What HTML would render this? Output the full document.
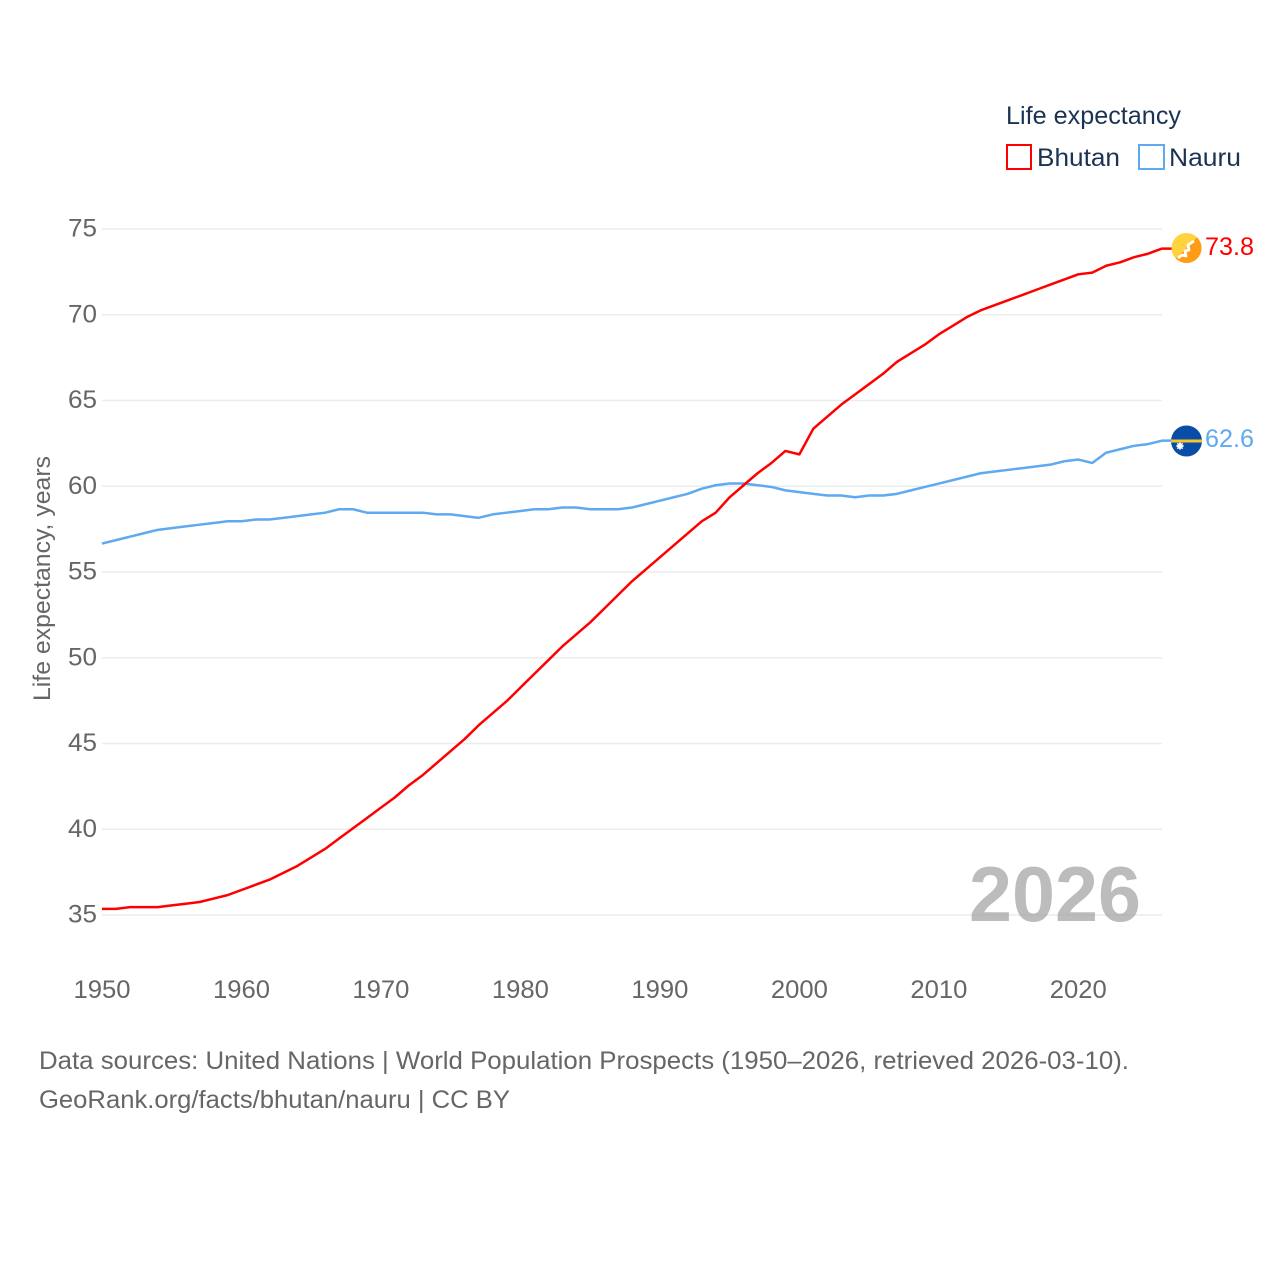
<!DOCTYPE html>
<html lang="en">
<head>
<meta charset="utf-8">
<title>Life expectancy: Bhutan and Nauru</title>
<style>
html,body{margin:0;padding:0;background:#fff;}
svg{display:block;}
text{font-family:"Liberation Sans",sans-serif;}
</style>
</head>
<body>
<svg id="chart" xmlns="http://www.w3.org/2000/svg" width="1280" height="1280" viewBox="0 0 1280 1280">
  <g id="grid"></g>
  <g id="yticks"></g>
  <g id="xticks"></g>
  <text transform="translate(50,701) rotate(-90)" font-size="24" fill="#666" textLength="245" lengthAdjust="spacingAndGlyphs">Life expectancy, years</text>
  <text x="969" y="921" font-size="78" font-weight="bold" fill="#a0a0a0" fill-opacity="0.7" textLength="172" lengthAdjust="spacingAndGlyphs">2026</text>
  <g id="series"></g>

  <g>
    <clipPath id="clipBt"><circle cx="1186.500" cy="248" r="15"/></clipPath>
    <g clip-path="url(#clipBt)">
      <rect x="1170" y="232" width="33" height="32" fill="#ffd23e"/>
      <polygon points="1201.500,233 1201.500,263 1171.500,263" fill="#ff9c16"/>
      <path d="M1178 258 L1182 255 L1186 256 L1185 251 L1189 250 L1188 245 L1191 243 L1194 241" fill="none" stroke="#fff" stroke-width="2.800" stroke-linejoin="round"/>
    </g>
  </g>
  <g>
    <clipPath id="clipNr"><circle cx="1186.500" cy="441" r="15.500"/></clipPath>
    <g clip-path="url(#clipNr)">
      <rect x="1170" y="425" width="33" height="32" fill="#0a4da6"/>
      <rect x="1170" y="439.500" width="33" height="3" fill="#fcc42c"/>
      <circle cx="1180" cy="446" r="3" fill="#fff"/>
      <path d="M1180 442 V450 M1176 446 H1184 M1177.200 443.200 L1182.800 448.800 M1182.800 443.200 L1177.200 448.800" stroke="#fff" stroke-width="1"/>
    </g>
  </g>

  <text x="1205" y="255" font-size="25" fill="#f00" textLength="49" lengthAdjust="spacingAndGlyphs">73.8</text>
  <text x="1205" y="447" font-size="25" fill="#5ea9f0" textLength="49" lengthAdjust="spacingAndGlyphs">62.6</text>

  <g>
    <text x="1006" y="124" font-size="25" fill="#1a3353" textLength="175" lengthAdjust="spacingAndGlyphs">Life expectancy</text>
    <rect x="1007" y="145" width="24" height="24" fill="#fff" stroke="#f00" stroke-width="2"/>
    <text x="1037" y="166" font-size="25" fill="#1a3353" textLength="83" lengthAdjust="spacingAndGlyphs">Bhutan</text>
    <rect x="1139" y="145" width="25" height="24" fill="#fff" stroke="#5ea9f0" stroke-width="2"/>
    <text x="1169" y="166" font-size="25" fill="#1a3353" textLength="72" lengthAdjust="spacingAndGlyphs">Nauru</text>
  </g>

  <text x="39" y="1069" font-size="25" fill="#666" textLength="1090" lengthAdjust="spacingAndGlyphs">Data sources: United Nations | World Population Prospects (1950–2026, retrieved 2026-03-10).</text>
  <text x="39" y="1108" font-size="25" fill="#666" textLength="471" lengthAdjust="spacingAndGlyphs">GeoRank.org/facts/bhutan/nauru | CC BY</text>
</svg>
<script>
const firstYear = 1950;
const lastYear = 2026;
const yTickLabels = [35, 40, 45, 50, 55, 60, 65, 70, 75];
const xTickLabels = [1950, 1960, 1970, 1980, 1990, 2000, 2010, 2020];
const bhutanValues = [35.3,35.3,35.4,35.4,35.4,35.5,35.6,35.7,35.9,36.1,36.4,36.7,37.0,37.4,37.8,38.3,38.8,39.4,40.0,40.6,41.2,41.8,42.5,43.1,43.8,44.5,45.2,46.0,46.7,47.4,48.2,49.0,49.8,50.6,51.3,52.0,52.8,53.6,54.4,55.1,55.8,56.5,57.2,57.9,58.4,59.3,60.0,60.7,61.3,62.0,61.8,63.3,64.0,64.7,65.3,65.9,66.5,67.2,67.7,68.2,68.8,69.3,69.8,70.2,70.5,70.8,71.1,71.4,71.7,72.0,72.3,72.4,72.8,73.0,73.3,73.5,73.8];
const nauruValues = [56.6,56.8,57.0,57.2,57.4,57.5,57.6,57.7,57.8,57.9,57.9,58.0,58.0,58.1,58.2,58.3,58.4,58.6,58.6,58.4,58.4,58.4,58.4,58.4,58.3,58.3,58.2,58.1,58.3,58.4,58.5,58.6,58.6,58.7,58.7,58.6,58.6,58.6,58.7,58.9,59.1,59.3,59.5,59.8,60.0,60.1,60.1,60.0,59.9,59.7,59.6,59.5,59.4,59.4,59.3,59.4,59.4,59.5,59.7,59.9,60.1,60.3,60.5,60.7,60.8,60.9,61.0,61.1,61.2,61.4,61.5,61.3,61.9,62.1,62.3,62.4,62.6];

const NS = 'http://www.w3.org/2000/svg';
const plotLeft = 102, plotRight = 1162, yAt35 = 915, pxPerUnit = 17.15;
function xScale(year) {
  return plotLeft + (year - firstYear) * (plotRight - plotLeft) / (lastYear - firstYear);
}
function yScale(value) {
  return yAt35 - 1 - (value - 35) * pxPerUnit;
}
function make(tag, attrs, parent) {
  const el = document.createElementNS(NS, tag);
  for (const k in attrs) el.setAttribute(k, attrs[k]);
  parent.appendChild(el);
  return el;
}
const grid = document.getElementById('grid');
const yt = document.getElementById('yticks');
const xt = document.getElementById('xticks');
const seriesGroup = document.getElementById('series');

yTickLabels.forEach(function (v) {
  const y = yAt35 - (v - 35) * pxPerUnit;
  const line = make('line', {x1: plotLeft, x2: plotRight, y1: y, y2: y, stroke: '#ececec', 'stroke-width': 1.5}, grid);
  
  
  const t = make('text', {x: 97, y: y + 7.5, 'text-anchor': 'end', 'font-size': 25, fill: '#666', textLength: 29, lengthAdjust: 'spacingAndGlyphs'}, yt);
  
  
  t.textContent = v;
});

xTickLabels.forEach(function (yr) {
  const t = make('text', {x: xScale(yr), y: 998, 'text-anchor': 'middle', 'font-size': 25, fill: '#666', textLength: 57, lengthAdjust: 'spacingAndGlyphs'}, xt);
  
  
  t.textContent = yr;
});

function drawSeries(values, color, name) {
  const pts = values.map(function (v, i) {
    return xScale(firstYear + i).toFixed(2) + ',' + yScale(v).toFixed(2);
  });
  const last = values[values.length - 1];
  pts.push((plotRight + 10) + ',' + yScale(last).toFixed(2));
  const line = make('polyline', {points: pts.join(' '), fill: 'none', stroke: color, 'stroke-width': 2.5, 'stroke-linejoin': 'round'}, seriesGroup);
  
  
}
drawSeries(nauruValues, '#5ea9f0', 'line-nauru');
drawSeries(bhutanValues, '#ff0000', 'line-bhutan');
</script>
</body>
</html>
